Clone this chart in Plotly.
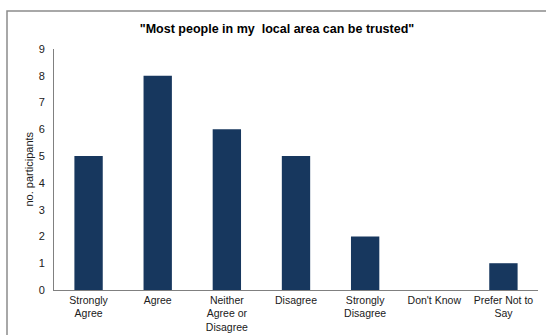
import plotly.graph_objects as go

categories = ["Strongly<br>Agree", "Agree", "Neither<br>Agree or<br>Disagree", "Disagree",
              "Strongly<br>Disagree", "Don't Know", "Prefer Not to<br>Say"]
counts = [5, 8, 6, 5, 2, 0, 1]
title = "\"Most people in my  local area can be trusted\""

L, R, T, B = 54, 8, 49, 45
W, H = 546, 335
pw = W - L - R
ph = H - T - B

fig = go.Figure(go.Bar(x=categories, y=counts, marker_color="#17375E",
                       width=0.41, marker_line_width=0))

fig.update_layout(
    width=W, height=H,
    margin=dict(l=L, r=R, t=T, b=B, autoexpand=False),
    paper_bgcolor="white", plot_bgcolor="white",
    font=dict(family="Liberation Sans, Arial", size=11, color="#404040"),
    title=dict(text="<b>" + title + "</b>", xref="paper", x=(277 - L) / pw, xanchor="center",
               y=1 - 29 / H, yanchor="middle",
               font=dict(size=12.5, color="#000000")),
    showlegend=False,
    bargap=0.59,
)
fig.update_xaxes(showline=True, linecolor="#808080", linewidth=1, ticks="", automargin=False,
                 ticklabelstandoff=0,
                 tickfont=dict(size=10.5, color="#202020"), showgrid=False)
fig.update_yaxes(range=[0, 9], dtick=1, showline=True, linecolor="#808080", linewidth=1,
                 ticks="outside", ticklen=6, tickcolor="rgba(0,0,0,0)", automargin=False,
                 showgrid=False, zeroline=False,
                 tickfont=dict(size=11, color="#202020"))

fig.add_annotation(text="no. participants", xref="paper", yref="paper",
                   x=(28 - L) / pw, y=0.5, xanchor="center", yanchor="middle",
                   textangle=-90, showarrow=False,
                   font=dict(size=11, color="#202020"))

# outer frame
x0 = (7 - L) / pw
y1 = (H - B - 11) / ph
fig.add_shape(type="rect", xref="paper", yref="paper", x0=x0, x1=(W + 5 - L) / pw,
              y0=-(B + 10) / ph, y1=y1, line=dict(color="#8c8c8c", width=1.5),
              fillcolor="rgba(0,0,0,0)", layer="below")

fig.write_html("out.html")
